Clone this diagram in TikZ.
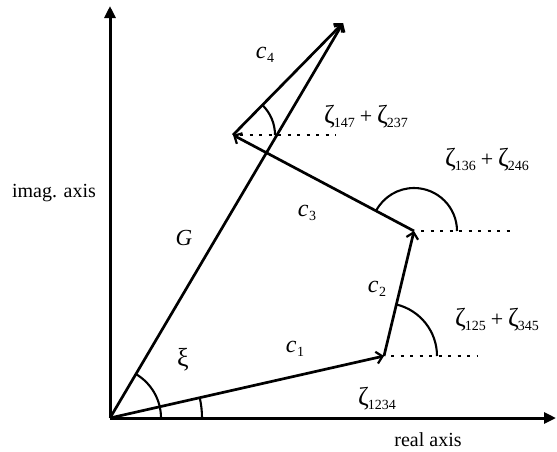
\documentclass[tikz,border=0pt]{standalone}
\usepackage{fontspec}
\setmainfont{Liberation Serif}
\usetikzlibrary{arrows.meta,angles}
\newcommand{\zz}[1]{{\fontsize{26}{26}\selectfont ζ}\kern-1pt\raisebox{-3.5pt}{\fontsize{14}{14}\selectfont #1}}
\newcommand{\cc}[1]{{\fontsize{24}{24}\selectfont\itshape c}\kern0.5pt\raisebox{-4pt}{\fontsize{14}{14}\selectfont #1}}
\newcommand{\zplus}{\hspace{5pt}{\fontsize{22}{22}\selectfont +}\hspace{5pt}}
\begin{document}
\begin{tikzpicture}[x=1pt,y=-1pt,
  axisline/.style={line width=3pt,-{Triangle[length=12pt,width=11pt]}},
  vec/.style={line width=2.7pt,-{Straight Barb[length=6pt,width=12pt,line width=2.2pt]}},
  dotline/.style={line width=1.8pt,dash pattern=on 3pt off 6.5pt},
  anglearc/.style={draw,line width=2.1pt},
  lbl/.style={inner sep=0pt,font=\fontsize{20}{22}\selectfont}]
\useasboundingbox (0,0) rectangle (557,451);
\coordinate (O) at (110,418);
\coordinate (X) at (556,418);
\coordinate (Y) at (110,6);
\coordinate (P1) at (384,356);
\coordinate (P2) at (414,231);
\coordinate (P3) at (233,135);
\coordinate (P4) at (343,23);
\coordinate (D1) at (478,356);
\coordinate (D2) at (510,231);
\coordinate (D3) at (336,135);
% axes
\draw[axisline] (O) -- (X);
\draw[axisline] (O) -- (Y);
% dotted reference lines
\draw[dotline] ([xshift=7pt]P1) -- (D1);
\draw[dotline] ([xshift=7pt]P2) -- (D2);
\draw[dotline] ([xshift=7pt]P3) -- (D3);
% vectors
\draw[vec] (O) -- (P1);
\draw[vec] (P1) -- (P2);
\draw[vec] (P2) -- (P3);
\draw[vec] (P3) -- (P4);
\draw[vec] (O) -- (P4);
% angle arcs
\pic[anglearc,angle radius=51pt] {angle = X--O--P4};
\pic[anglearc,angle radius=92pt] {angle = X--O--P1};
\pic[anglearc,angle radius=53pt] {angle = D1--P1--P2};
\pic[anglearc,angle radius=43pt] {angle = D2--P2--P3};
\pic[anglearc,angle radius=42pt] {angle = D3--P3--P4};
% labels
\node[lbl] (lc4) at (265,55) {\cc{4}};
\node[lbl] (lc3) at (307,213) {\cc{3}};
\node[lbl] (lc2) at (377,289) {\cc{2}};
\node[lbl] (lc1) at (295,349) {\cc{1}};
\node[lbl] (lG) at (184,238) {{\fontsize{23}{23}\selectfont\itshape G}};
\node[lbl] (lxi) at (183,360) {{\fontsize{26}{26}\selectfont ξ}};
\node[lbl] (z3) at (366,117) {\zz{147}\zplus\zz{237}};
\node[lbl] (z2) at (487,160) {\zz{136}\zplus\zz{246}};
\node[lbl] (z1) at (497,320) {\zz{125}\zplus\zz{345}};
\node[lbl] (z0) at (377,399) {\zz{1234}};
\node[lbl] (real) at (428,440) {real axis};
\node[lbl] (imag) at (54,193) {imag. axis};
\end{tikzpicture}
\end{document}
